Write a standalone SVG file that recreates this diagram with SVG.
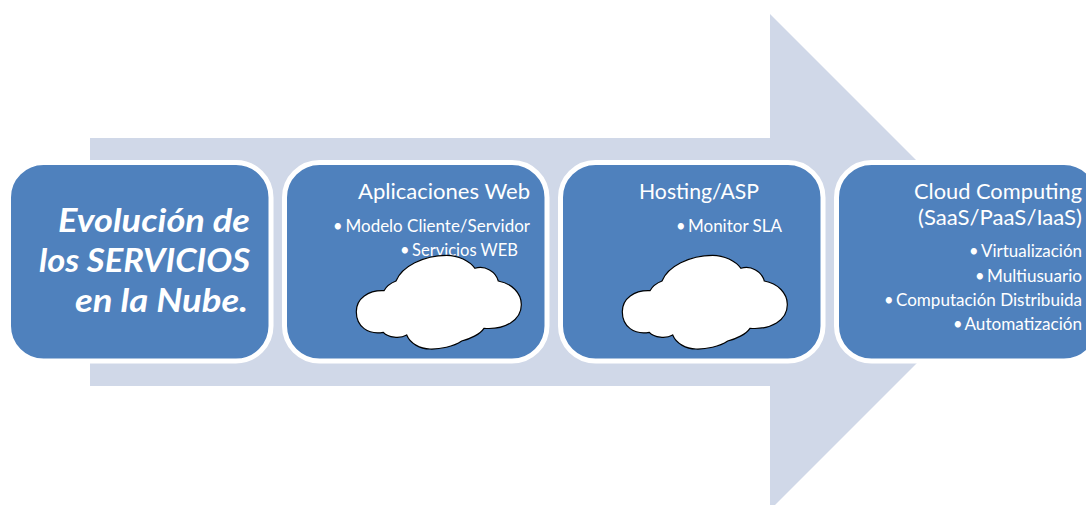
<svg xmlns="http://www.w3.org/2000/svg" width="1086" height="505" viewBox="0 0 1086 505">
<style>
.box{fill:#4F81BD;stroke:#fff;stroke-width:5}
.cloud{fill:#fff;stroke:#000;stroke-width:1.2}
text{font-family:"Lato","Carlito","Open Sans",sans-serif;fill:#fff}
.h{font-size:21px}
.b{font-size:16.500px}
.t{font-size:32.500px;font-weight:700;font-style:italic}
</style>
<defs>
<path id="cloudShape" class="cloud" d="M.3 56.700C.3 43.300 12.300 35 28 35.700C30.700 30.700 35.700 27.700 40 26C45.700 11.700 67.300 .3 90.700 .3C102.300 .3 113.300 6 119 13.300C129 10 140 16.700 142.300 26C155.700 28.300 165.700 38.300 165.300 50C165.300 65 149 75 128 73.300C124 79.300 114 84 105.700 86C97.300 91.700 84 94.300 74 94C64 94 54 88.300 50.700 80C44 84 32.300 82.700 27.300 77.300C12.300 80 .3 71.700 .3 56.700Z"/>
</defs>
<rect width="1086" height="505" fill="#fff"/>
<g id="connectors">
<path id="arrow" fill="#D0D8E8" d="M90 138H770V14L1018 262L775 505H770V386H90Z"/>
</g>
<g id="node-titulo">
<rect class="box" x="8.500" y="162.500" width="262.500" height="198.500" rx="35"/>
<text class="t" x="58" y="232" textLength="192" lengthAdjust="spacingAndGlyphs">Evolución de</text>
<text class="t" x="39" y="272" textLength="211" lengthAdjust="spacingAndGlyphs">los SERVICIOS</text>
<text class="t" x="75" y="312" textLength="173" lengthAdjust="spacingAndGlyphs">en la Nube.</text>
</g>
<g id="node-web">
<rect class="box" x="284.500" y="162.500" width="262.500" height="198.500" rx="35"/>
<text class="h" x="358" y="199" textLength="172" lengthAdjust="spacingAndGlyphs">Aplicaciones Web</text>
<text class="b" y="232"><tspan x="333">•</tspan> <tspan x="345.500" textLength="184.500" lengthAdjust="spacingAndGlyphs">Modelo Cliente/Servidor</tspan></text>
<text class="b" y="256"><tspan x="400">•</tspan> <tspan x="412" textLength="106" lengthAdjust="spacingAndGlyphs">Servicios WEB</tspan></text>
<use href="#cloudShape" x="356" y="255"/>
</g>
<g id="node-hosting">
<rect class="box" x="560.500" y="162.500" width="262.500" height="198.500" rx="35"/>
<text class="h" x="639" y="199" textLength="120" lengthAdjust="spacingAndGlyphs">Hosting/ASP</text>
<text class="b" y="232"><tspan x="676">•</tspan> <tspan x="688" textLength="94" lengthAdjust="spacingAndGlyphs">Monitor SLA</tspan></text>
<use href="#cloudShape" x="622" y="255"/>
</g>
<g id="node-cloud">
<rect class="box" x="836.500" y="162.500" width="262.500" height="198.500" rx="35"/>
<text class="h" x="914" y="199" textLength="168" lengthAdjust="spacingAndGlyphs">Cloud Computing</text>
<text class="h" x="918" y="225" textLength="164" lengthAdjust="spacingAndGlyphs">(SaaS/PaaS/IaaS)</text>
<text class="b" y="257"><tspan x="969">•</tspan> <tspan x="981" textLength="101" lengthAdjust="spacingAndGlyphs">Virtualización</tspan></text>
<text class="b" y="282"><tspan x="975">•</tspan> <tspan x="987" textLength="95" lengthAdjust="spacingAndGlyphs">Multiusuario</tspan></text>
<text class="b" y="306"><tspan x="884">•</tspan> <tspan x="896" textLength="186" lengthAdjust="spacingAndGlyphs">Computación Distribuida</tspan></text>
<text class="b" y="330"><tspan x="953">•</tspan> <tspan x="964.500" textLength="117.500" lengthAdjust="spacingAndGlyphs">Automatización</tspan></text>
</g>
</svg>
